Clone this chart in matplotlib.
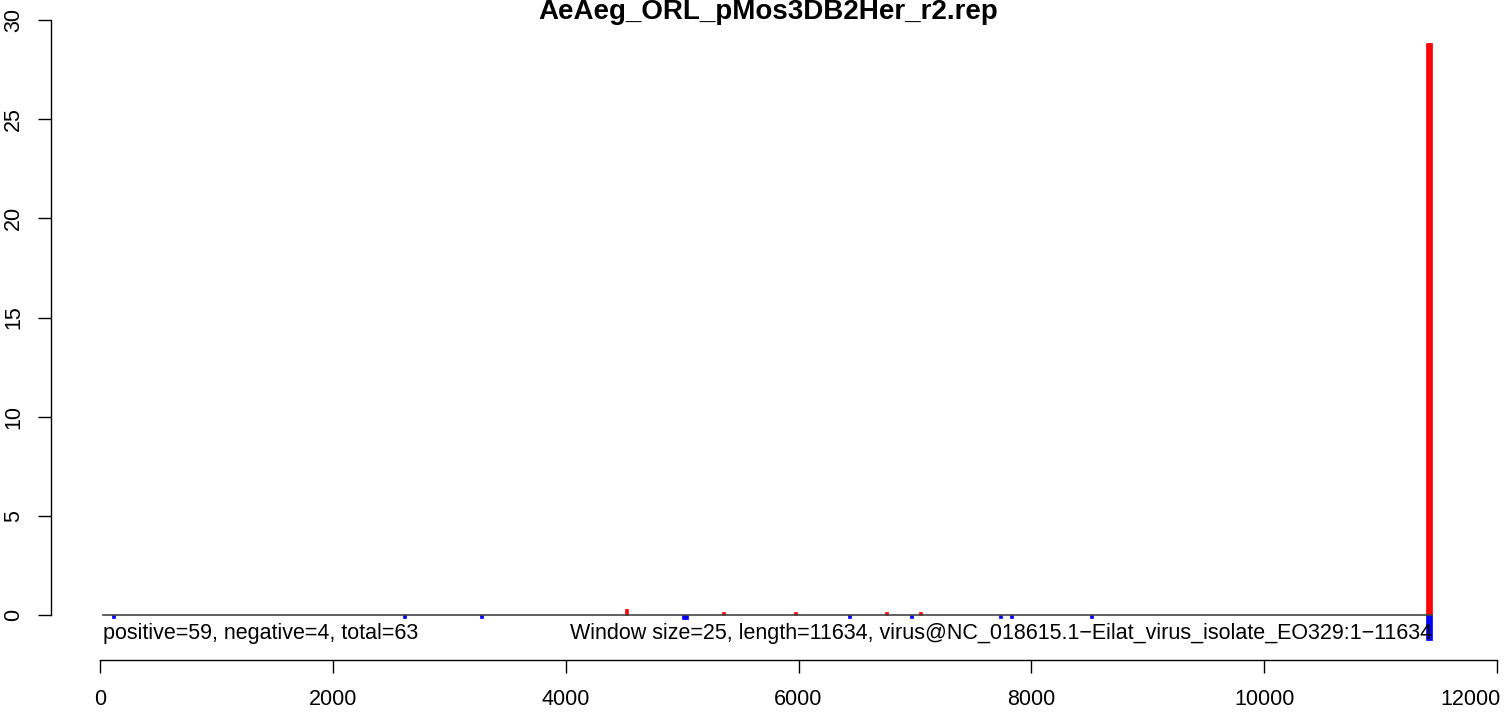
import numpy as np
import matplotlib
matplotlib.use('Agg')
import matplotlib.pyplot as plt
from matplotlib.transforms import ScaledTranslation

plt.rcParams['font.family'] = ['Liberation Sans', 'DejaVu Sans']

title = 'AeAeg_ORL_pMos3DB2Her_r2.rep'
window = 25
# window centres
pos_x = [4521, 5354, 5972, 6754, 7046, 11404, 11429]
pos_h = [0.32, 0.15, 0.15, 0.15, 0.15, 28.84, 28.84]
neg_x = [114, 2614, 3279, 5012, 5037, 6436, 6972, 7733, 7828, 8515, 11404, 11429]
neg_h = [-0.15, -0.15, -0.15, -0.2, -0.2, -0.15, -0.15, -0.15, -0.15, -0.15, -1.26, -1.26]
base_x = [26, 11442]
xticks = [0, 2000, 4000, 6000, 8000, 10000, 12000]
yticks = [0, 5, 10, 15, 20, 25, 30]
left_text = 'positive=59, negative=4, total=63'
right_text = 'Window size=25, length=11634, virus@NC_018615.1\u2212Eilat_virus_isolate_EO329:1\u221211634'

W, H, dpi = 1504, 715, 100
fig = plt.figure(figsize=(W / dpi, H / dpi), dpi=dpi)
fs = 15.5

# pixel layout: x 0 -> 100px, 12000 -> 1497px ; y 30 -> 20px, 0 -> 615px
px_per_y = (615 - 20) / 30.0
y_bot_px = 690
ylo = -(y_bot_px - 615) / px_per_y
ax = fig.add_axes([100 / W, 1 - y_bot_px / H, 1397 / W, (y_bot_px - 20) / H])
ax.set_xlim(0, 12000)
ax.set_ylim(ylo, 30)

ax.bar(pos_x, pos_h, width=window, color='#FF0000', edgecolor='#FF0000', linewidth=0.5)
ax.bar(neg_x, neg_h, width=window, color='#0000FF', edgecolor='#0000FF', linewidth=0.5)
ax.plot(base_x, [0, 0], color='#444444', linewidth=1.2, zorder=1)

ax.text(base_x[0], -(633 - 615) / px_per_y, left_text, ha='left', va='center', fontsize=fs)
ax.text(base_x[1], -(633 - 615) / px_per_y, right_text, ha='right', va='center', fontsize=fs)

for s in ['top', 'right']:
    ax.spines[s].set_visible(False)
ax.spines['left'].set_bounds(0, 30)
ax.spines['left'].set_position(('outward', 49 * 72 / dpi))
ax.spines['bottom'].set_position(('data', -(660 - 615) / px_per_y))
ax.spines['bottom'].set_bounds(0, 12000)
for s in ['left', 'bottom']:
    ax.spines[s].set_linewidth(1.0)

ax.set_xticks(xticks)
ax.set_yticks(yticks)
ax.tick_params(axis='x', length=9, width=1.0, labelsize=fs, pad=12)
ax.tick_params(axis='y', length=9.5, width=1.0, labelsize=fs, pad=10)
for lab in ax.get_yticklabels():
    lab.set_rotation(90)
    lab.set_va('center')

# keep the last x label inside the figure
last = ax.get_xticklabels()[-1]
last.set_transform(last.get_transform() + ScaledTranslation(-26 / dpi, 0, fig.dpi_scale_trans))

fig.text(768 / W, 1 - 12 / H, title, ha='center', va='center', fontsize=20, fontweight='bold')

fig.savefig('out.png', dpi=dpi)
